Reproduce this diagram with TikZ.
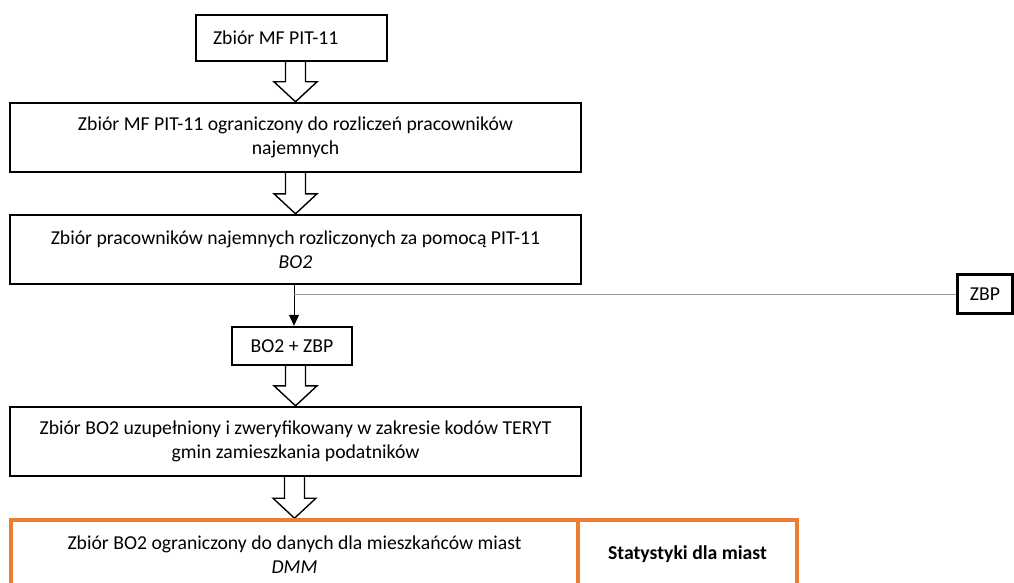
\documentclass[tikz,border=0pt]{standalone}
\usepackage{fontspec}
\setmainfont{Carlito}
\usepackage{tikz}
\usetikzlibrary{calc}
\usetikzlibrary{arrows.meta}
\usetikzlibrary{backgrounds}
\definecolor{mforange}{RGB}{237,125,49}
\tikzset{
  box/.style={draw=black, line width=2.4pt, inner sep=0pt, align=center,
              minimum width=571pt, minimum height=69pt},
  smallbox/.style={draw=black, line width=2.4pt, inner sep=0pt, align=center},
  citybox/.style={draw=mforange, line width=3.6pt, inner sep=0pt, align=center,
                  minimum height=69pt},
  hollow/.style={draw=black, line width=1.4pt, fill=white}
}
% wide hollow arrow between two stacked boxes
\newcommand{\flowarrow}[2]{%
  \draw[hollow] ($(#1.south -| #2.north)+(-10,0)$) -- ($(#2.north)+(-10,-20)$)
    -- ($(#2.north)+(-21.5,-20)$) -- (#2.north) -- ($(#2.north)+(21.5,-20)$)
    -- ($(#2.north)+(10,-20)$) -- ($(#1.south -| #2.north)+(10,0)$);
}

\begin{document}
\begin{tikzpicture}[x=1pt, y=-1pt, font=\fontsize{19.7}{24}\selectfont]
\useasboundingbox (0,0) rectangle (1014,583);

\node[smallbox, text width=157pt, inner xsep=17pt, align=flush left, minimum height=46pt]
  (pit) at (291.5,38) {Zbiór MF PIT-11};
\node[box] (pitpn) at (295.5,137.5)
  {Zbiór MF PIT-11 ograniczony do rozliczeń pracowników\\najemnych};
\node[box] (bo2) at (295.5,249.5)
  {Zbiór pracowników najemnych rozliczonych za pomocą PIT-11\\\textit{BO2}};
\node[smallbox, minimum width=55pt, minimum height=39pt] (zbp) at (985,294) {ZBP};
\node[smallbox, minimum width=120pt, minimum height=38pt] (bo2zbp) at (292,346) {BO2 + ZBP};
\node[box] (teryt) at (295.5,441.5)
  {Zbiór BO2 uzupełniony i zweryfikowany w zakresie kodów TERYT\\gmin zamieszkania podatników};
\node[citybox, minimum width=567pt] (dmm) at (294.5,554.5)
  {Zbiór BO2 ograniczony do danych dla mieszkańców miast\\\textit{DMM}};
\node[citybox, minimum width=219pt] (stat) at (687.5,554.5) {\textbf{Statystyki dla miast}};

\coordinate (join) at (294,294);

\begin{scope}[on background layer]
\flowarrow{pit}{pitpn}
\flowarrow{pitpn}{bo2}
\flowarrow{bo2zbp}{teryt}
\flowarrow{teryt}{dmm}
\end{scope}

\draw[line width=1pt, -{Triangle[length=11pt,width=10pt]}] (bo2.south -| join) -- (bo2zbp.north -| join);
\draw[gray!80, line width=0.9pt] (join) -- (zbp.west);
\end{tikzpicture}
\end{document}
